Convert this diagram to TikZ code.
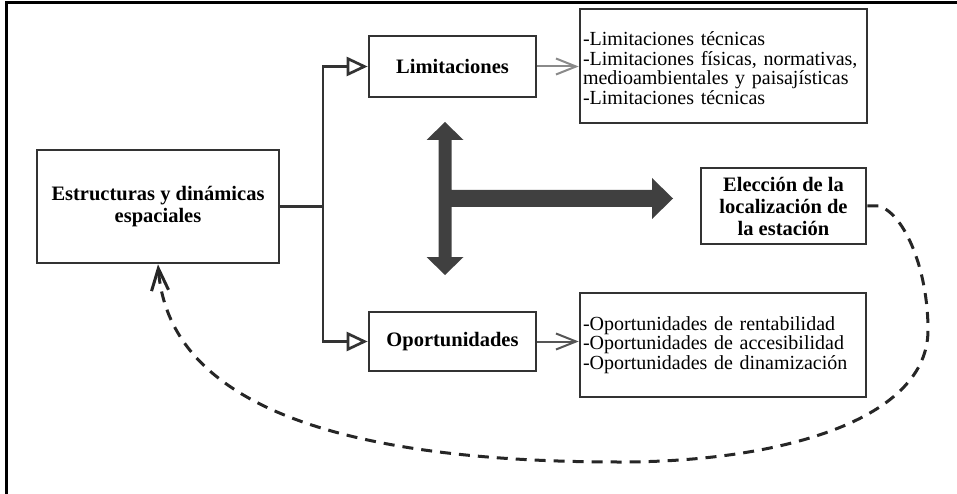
\documentclass[tikz,border=0pt]{standalone}
\usepackage{fontspec}
\setmainfont{Liberation Serif}
\usetikzlibrary{arrows.meta}
\definecolor{boxline}{HTML}{333333}
\definecolor{bigarrow}{HTML}{404040}
\definecolor{lightlink}{HTML}{8A8A8A}
\definecolor{darklink}{HTML}{555555}
\begin{document}
\begin{tikzpicture}[x=1pt,y=-1pt,
  box/.style={draw=boxline, line width=2.7pt, fill=white, inner sep=0pt},
  titlebox/.style={box, font=\fontsize{20.5}{22}\selectfont\bfseries, align=center},
  listbox/.style={box, font=\fontsize{20}{19.5}\selectfont, align=left, inner xsep=3pt},
  link/.style={line width=2.7pt, draw=boxline},
  opentri/.style={-{Triangle[open,length=21pt,width=19pt]}},
  feed/.style={line width=2pt, -{Straight Barb[length=20pt,width=16pt]}},
  loopback/.style={line width=3pt, draw=black!85, dash pattern=on 11pt off 8pt,
    -{Straight Barb[length=22pt,width=17pt]}}
]
\useasboundingbox (0,0) rectangle (957,494);

% frame
\draw[line width=3pt] (6.5,494) -- (6.5,3) -- (957,3);

% boxes
\node[titlebox, minimum width=242pt, minimum height=113pt] (est) at (158,206.5)
  {Estructuras y dinámicas\\espaciales};
\node[titlebox, minimum width=167pt, minimum height=61pt] (lim) at (452.5,66.5)
  {Limitaciones};
\node[titlebox, minimum width=167pt, minimum height=59pt] (opo) at (452.5,341.5)
  {Oportunidades};
\node[titlebox, minimum width=165pt, minimum height=76pt] (el) at (783.5,206)
  {Elección de la\\localización de\\la estación};
\node[listbox, text width=281pt, minimum height=114pt] (list1) at (723.5,66)
  {\rule{0pt}{18pt}-Limitaciones técnicas\\-Limitaciones físicas, normativas,\\medioambientales y paisajísticas\\-Limitaciones técnicas};
\node[listbox, text width=280pt, minimum height=104pt] (list2) at (723,345)
  {-Oportunidades de rentabilidad\\-Oportunidades de accesibilidad\\-Oportunidades de dinamización};

% branching connectors
\coordinate (jn) at (323,206.5);
\draw[link] (est.east) -- (jn);
\draw[link, opentri] (jn) |- (lim.west);
\draw[link, opentri] (jn) |- (opo.west);

% links to the lists
\draw[feed, draw=lightlink] (lim.east) -- (lim.east -| list1.west);
\draw[feed, draw=darklink] (opo.east) -- (opo.east -| list2.west);

% thick T-shaped arrow
\fill[bigarrow] (445,122) -- (463.5,140) -- (451.5,140) -- (451.5,190) -- (652,190)
  -- (652,178) -- (673,198.5) -- (652,219) -- (652,207) -- (451.5,207)
  -- (451.5,257) -- (463.5,257) -- (445,275) -- (426.5,257) -- (438.5,257)
  -- (438.5,140) -- (426.5,140) -- cycle;

% feedback loop
\draw[loopback] (el.east) -- ++(12,0)
  .. controls (905,215) and (928,270) .. (928,330)
  .. controls (928,420) and (780,462) .. (620,462)
  .. controls (380,462) and (170,420) .. (est.south);
\end{tikzpicture}
\end{document}
